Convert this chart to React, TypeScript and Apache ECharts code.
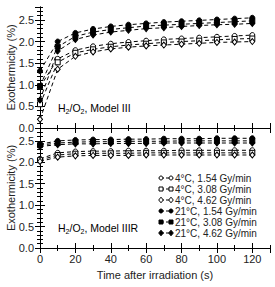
import React, { useEffect, useRef } from "react";
import * as echarts from "echarts";

const times = [0, 10, 20, 30, 40, 50, 60, 70, 80, 90, 100, 110, 120];

const legendLabels = [
  "4°C, 1.54 Gy/min",
  "4°C, 3.08 Gy/min",
  "4°C, 4.62 Gy/min",
  "21°C, 1.54 Gy/min",
  "21°C, 3.08 Gy/min",
  "21°C, 4.62 Gy/min",
];

// Model III (top panel)
const m3_4c_154 = [0.95, 1.6, 1.8, 1.89, 1.95, 1.99, 2.02, 2.05, 2.07, 2.09, 2.11, 2.13, 2.15];
const m3_4c_308 = [0.55, 1.52, 1.74, 1.82, 1.88, 1.92, 1.95, 1.98, 2.0, 2.02, 2.04, 2.06, 2.07];
const m3_4c_462 = [0.2, 1.36, 1.66, 1.76, 1.83, 1.87, 1.9, 1.92, 1.94, 1.96, 1.98, 1.99, 2.0];
const m3_21c_154 = [1.32, 2.0, 2.2, 2.29, 2.35, 2.39, 2.42, 2.45, 2.47, 2.49, 2.51, 2.53, 2.55];
const m3_21c_308 = [0.97, 1.88, 2.12, 2.22, 2.28, 2.32, 2.36, 2.38, 2.4, 2.42, 2.44, 2.46, 2.48];
const m3_21c_462 = [0.65, 1.78, 2.05, 2.15, 2.22, 2.26, 2.3, 2.32, 2.35, 2.37, 2.39, 2.4, 2.42];

// Model IIIR (bottom panel)
const m3r_4c_154 = [2.08, 2.22, 2.25, 2.26, 2.26, 2.27, 2.27, 2.27, 2.28, 2.28, 2.28, 2.28, 2.28];
const m3r_4c_308 = [2.05, 2.17, 2.2, 2.21, 2.21, 2.21, 2.22, 2.22, 2.22, 2.22, 2.22, 2.22, 2.22];
const m3r_4c_462 = [2.02, 2.12, 2.15, 2.16, 2.16, 2.16, 2.17, 2.17, 2.17, 2.17, 2.17, 2.17, 2.17];
const m3r_21c_154 = [2.42, 2.5, 2.52, 2.53, 2.53, 2.54, 2.54, 2.55, 2.55, 2.55, 2.56, 2.56, 2.56];
const m3r_21c_308 = [2.4, 2.45, 2.47, 2.48, 2.48, 2.49, 2.49, 2.49, 2.5, 2.5, 2.5, 2.5, 2.5];
const m3r_21c_462 = [2.37, 2.41, 2.43, 2.43, 2.44, 2.44, 2.44, 2.45, 2.45, 2.45, 2.45, 2.45, 2.45];

const topData = [m3_4c_154, m3_4c_308, m3_4c_462, m3_21c_154, m3_21c_308, m3_21c_462];
const bottomData = [m3r_4c_154, m3r_4c_308, m3r_4c_462, m3r_21c_154, m3r_21c_308, m3r_21c_462];

const symbols = ["circle", "rect", "diamond", "circle", "rect", "diamond"];
const filled = [false, false, false, true, true, true];

const FONT = "Liberation Sans";
const TXT = "#222";

export default function App() {
  const ref = useRef<HTMLDivElement>(null);
  useEffect(() => {
    if (!ref.current) return;
    const chart = echarts.init(ref.current, null, { renderer: "svg" });

    const gridDefs = [
      { left: 40, top: 7, width: 230, height: 121, containLabel: false, outerBoundsMode: "none" },
      { left: 40, top: 128, width: 230, height: 120, containLabel: false, outerBoundsMode: "none" },
    ];

    const xAxes: any[] = [];
    const yAxes: any[] = [];
    const axisLine = { show: true, lineStyle: { color: "#000", width: 1 } };
    gridDefs.forEach((_, p) => {
      const showX = p === 1;
      xAxes.push({
        type: "value", gridIndex: p, position: "bottom", min: 0, max: 130, interval: 20,
        axisLine, axisTick: { inside: true, length: 5, lineStyle: { color: "#000" } },
        axisLabel: { show: showX, margin: 5, fontSize: 11, fontFamily: FONT, color: TXT, showMaxLabel: false },
        splitLine: { show: false },
        name: showX ? "Time after irradiation (s)" : "",
        nameLocation: "middle", nameGap: 21, nameMoveOverlap: false,
        nameTextStyle: { fontSize: 11, fontFamily: FONT, color: TXT },
      });
      xAxes.push({
        type: "value", gridIndex: p, position: "bottom", min: 0, max: 130, interval: 10,
        axisLine: { show: false }, axisTick: { inside: true, length: 3, lineStyle: { color: "#000" } },
        axisLabel: { show: false }, splitLine: { show: false },
      });
      xAxes.push({
        type: "value", gridIndex: p, position: "top", min: 0, max: 130, interval: 20,
        axisLine, axisTick: { inside: true, length: 5, lineStyle: { color: "#000" } },
        axisLabel: { show: false }, splitLine: { show: false },
      });
      xAxes.push({
        type: "value", gridIndex: p, position: "top", min: 0, max: 130, interval: 10,
        axisLine: { show: false }, axisTick: { inside: true, length: 3, lineStyle: { color: "#000" } },
        axisLabel: { show: false }, splitLine: { show: false },
      });

      yAxes.push({
        type: "value", gridIndex: p, position: "left", min: 0, max: 2.8, interval: 0.5,
        axisLine, axisTick: { inside: true, length: 5, lineStyle: { color: "#000" } },
        axisLabel: {
          margin: 6, fontSize: 11, fontFamily: FONT, color: TXT, showMaxLabel: false,
          formatter: (v: number) => v.toFixed(1),
        },
        splitLine: { show: false },
        name: "Exothermicity (%)", nameLocation: "middle", nameGap: 24, nameMoveOverlap: false,
        nameTextStyle: { fontSize: 11, fontFamily: FONT, color: TXT },
      });
      yAxes.push({
        type: "value", gridIndex: p, position: "left", min: 0, max: 2.8, interval: 0.1,
        axisLine: { show: false }, axisTick: { inside: true, length: 3, lineStyle: { color: "#000" } },
        axisLabel: { show: false }, splitLine: { show: false },
      });
      yAxes.push({
        type: "value", gridIndex: p, position: "right", min: 0, max: 2.8, interval: 0.5,
        axisLine, axisTick: { inside: true, length: 5, lineStyle: { color: "#000" } },
        axisLabel: { show: false }, splitLine: { show: false },
      });
      yAxes.push({
        type: "value", gridIndex: p, position: "right", min: 0, max: 2.8, interval: 0.1,
        axisLine: { show: false }, axisTick: { inside: true, length: 3, lineStyle: { color: "#000" } },
        axisLabel: { show: false }, splitLine: { show: false },
      });
    });

    const series: any[] = [];
    [topData, bottomData].forEach((panel, p) => {
      panel.forEach((vals, i) => {
        series.push({
          type: "line",
          name: legendLabels[i],
          xAxisIndex: p * 4,
          yAxisIndex: p * 4,
          data: times.map((t, k) => [t, vals[k]]),
          symbol: symbols[i],
          symbolSize: symbols[i] === "diamond" ? [5, 6] : 5,
          showAllSymbol: true,
          lineStyle: { color: "#000", width: 1, type: [4, 3] },
          itemStyle: { color: filled[i] ? "#000" : "#fff", borderColor: "#000", borderWidth: 1 },
          z: 3,
        });
      });
    });

    const graphics: any[] = [];
    legendLabels.forEach((lab, i) => {
      const y = 178 + i * 11;
      const x1 = 161;
      const x2 = 171;
      graphics.push({
        type: "line",
        shape: { x1, y1: y, x2, y2: y },
        style: { stroke: "#000", lineWidth: 1, lineDash: [3, 2] },
      });
      [x1, x2].forEach((cx) => {
        const fill = filled[i] ? "#000" : "#fff";
        const st = { fill, stroke: "#000", lineWidth: 1 };
        if (symbols[i] === "circle") {
          graphics.push({ type: "circle", shape: { cx, cy: y, r: 2 }, style: st, z: 10 });
        } else if (symbols[i] === "rect") {
          graphics.push({ type: "rect", shape: { x: cx - 2, y: y - 2, width: 4, height: 4 }, style: st, z: 10 });
        } else {
          graphics.push({
            type: "polygon",
            shape: { points: [[cx, y - 2.8], [cx + 2.3, y], [cx, y + 2.8], [cx - 2.3, y]] },
            style: st, z: 10,
          });
        }
      });
      graphics.push({
        type: "text",
        x: 175,
        y,
        style: { text: lab, fontSize: 10, fontFamily: FONT, fill: TXT, verticalAlign: "middle", align: "left" },
      });
    });

    const rich = {
      n: { fontSize: 10.5, fontFamily: FONT, color: TXT, lineHeight: 14, verticalAlign: "middle" },
      s: { fontSize: 7, fontFamily: FONT, color: TXT, lineHeight: 8, verticalAlign: "bottom" },
    };
    graphics.push({
      type: "text", x: 58, y: 108,
      style: { text: "{n|H}{s|2}{n|/O}{s|2}{n|, Model III}", rich, verticalAlign: "middle", align: "left" },
    });
    graphics.push({
      type: "text", x: 58, y: 228,
      style: { text: "{n|H}{s|2}{n|/O}{s|2}{n|, Model IIIR}", rich, verticalAlign: "middle", align: "left" },
    });

    chart.setOption({
      animation: false,
      backgroundColor: "#fff",
      textStyle: { fontFamily: FONT },
      grid: gridDefs,
      xAxis: xAxes,
      yAxis: yAxes,
      series,
      graphic: graphics,
    });
    return () => chart.dispose();
  }, []);
  return <div ref={ref} style={{ width: 275, height: 287, position: "absolute", left: 0, top: 0 }} />;
}
